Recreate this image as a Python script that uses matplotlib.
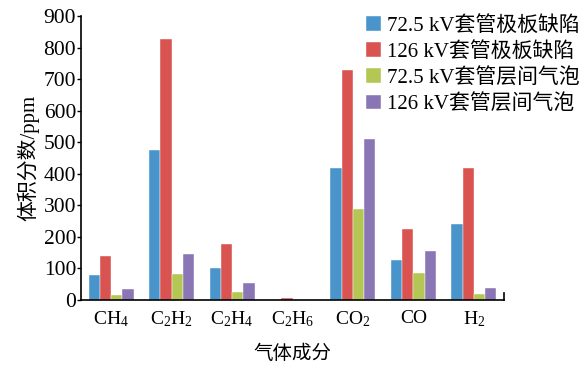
import matplotlib
matplotlib.use('Agg')
from matplotlib import pyplot as plt
import numpy as np

plt.rcParams['font.family'] = ['Liberation Serif', 'Noto Sans CJK SC']
plt.rcParams['mathtext.fontset'] = 'custom'
plt.rcParams['mathtext.rm'] = 'Liberation Serif'
plt.rcParams['mathtext.it'] = 'Liberation Serif'

gases = [r'CH$_4$', r'C$_2$H$_2$', r'C$_2$H$_4$', r'C$_2$H$_6$', r'CO$_2$', 'CO', r'H$_2$']
series_names = ['72.5 kV套管极板缺陷', '126 kV套管极板缺陷', '72.5 kV套管层间气泡', '126 kV套管层间气泡']
plate_725 = [78, 474, 101, 0, 418, 127, 240]
plate_126 = [139, 826, 177, 7, 729, 224, 418]
bubble_725 = [17, 82, 27, 0, 290, 87, 19]
bubble_126 = [34, 147, 53, 0, 509, 155, 37]
colors = ['#4a94cc', '#d95450', '#b4c654', '#8a76b4']

fig = plt.figure(figsize=(5.85, 3.65), dpi=100)
ax = fig.add_axes([0.1385, 0.178, 0.723, 0.778])

x = np.arange(len(gases))
w = 0.186
for i, vals in enumerate([plate_725, plate_126, bubble_725, bubble_126]):
    ax.bar(x + (i - 1.5) * w, vals, w, color=colors[i], label=series_names[i],
           edgecolor='white', linewidth=0.3)

ax.set_xlim(-0.5, 6.5)
ax.set_ylim(0, 900)
ax.set_yticks(range(0, 901, 100))
ax.set_xticks(x)
ax.set_xticklabels(gases, fontsize=14)
ax.tick_params(axis='x', length=0, pad=7)
ax.tick_params(axis='y', direction='out', length=3, width=1, labelsize=15.5, pad=0.5)
ax.spines['top'].set_visible(False)
ax.spines['right'].set_visible(False)
ax.spines['left'].set_linewidth(1.2)
ax.spines['bottom'].set_linewidth(1.2)
ax.plot([1, 1], [0, 0.025], transform=ax.transAxes, color='black', lw=1.2, clip_on=False)

ax.set_xlabel('气体成分', fontsize=14, labelpad=11)
ax.set_ylabel('体积分数/ppm', fontsize=15, labelpad=3)

leg = ax.legend(loc='upper left', bbox_to_anchor=(0.655, 1.03), frameon=False, fontsize=15,
                handlelength=0.7, handleheight=0.7, handletextpad=0.3, labelspacing=0.3,
                borderaxespad=0)

fig.savefig('out.png', dpi=100)
